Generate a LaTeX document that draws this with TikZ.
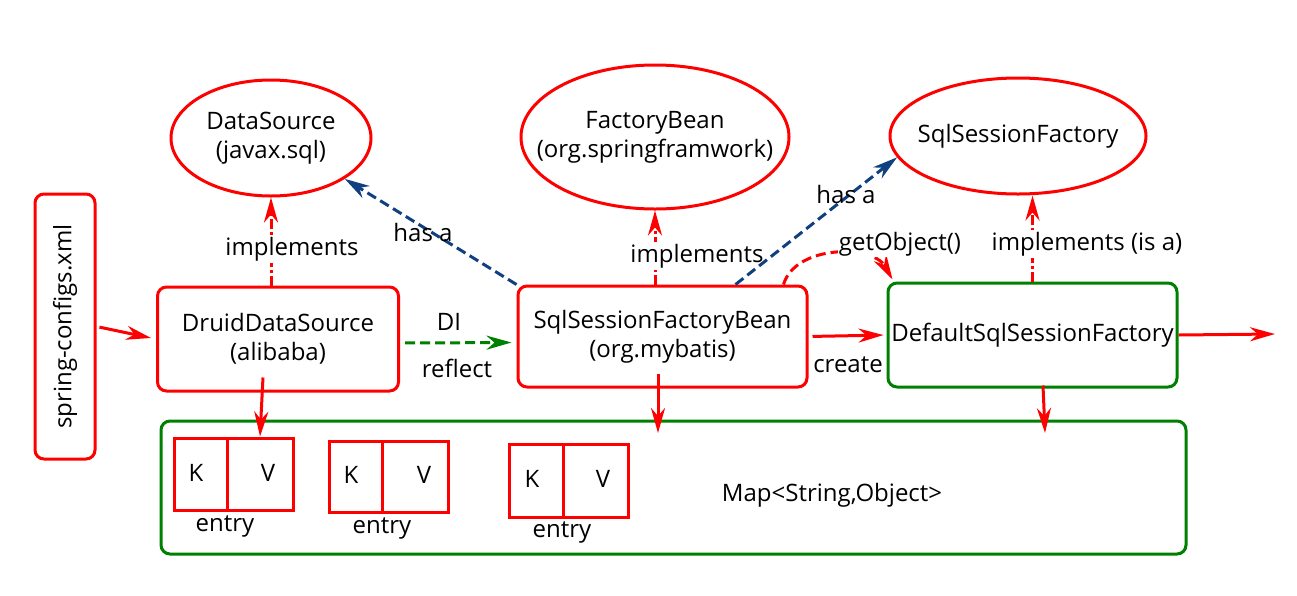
\documentclass[tikz,border=0pt]{standalone}
\usepackage{fontspec}
\setmainfont{Open Sans}
\usetikzlibrary{arrows.meta,calc,shapes.geometric}
\definecolor{dgreen}{RGB}{0,128,0}
\definecolor{dblue}{RGB}{16,64,128}
\begin{document}
\begin{tikzpicture}[x=1pt,y=-1pt,
  every node/.style={font=\fontsize{24}{29}\selectfont},
  redbox/.style={draw=red, line width=3pt, rounded corners=9pt, align=center, inner sep=0pt},
  greenbox/.style={draw=dgreen, line width=3pt, rounded corners=9pt, align=center, inner sep=0pt},
  ell/.style={ellipse, draw=red, line width=3pt, inner sep=0pt},
  cell/.style={draw=red, line width=3pt, inner sep=0pt},
  tip/.style={-{Stealth[length=25pt,width=14pt,inset=8pt]}},
  arr/.style={red, line width=3pt, tip},
  impl/.style={red, line width=3pt, tip, dash pattern=on 10pt off 3pt on 3pt off 3pt},
  hasa/.style={dblue, line width=3pt, tip, dash pattern=on 10pt off 5pt},
  di/.style={dgreen, line width=3pt, tip, dash pattern=on 10pt off 5pt},
  getobj/.style={red, line width=3pt, tip, dash pattern=on 10pt off 5pt},
  lbl/.style={fill=white, inner sep=2pt},
  plain/.style={inner sep=1pt, align=center}
]
\useasboundingbox (0,0) rectangle (1297,595);

% boxes
\node[redbox, minimum width=60, minimum height=265] (spring) at (65,326.5) {};
\node[rotate=90] (springtxt) at (spring.center) {spring-configs.xml};
\node[redbox, minimum width=241, minimum height=104] (druid) at (278,339) {DruidDataSource\\(alibaba)};
\node[redbox, minimum width=289, minimum height=101] (ssfb) at (662.5,336.5) {SqlSessionFactoryBean\\(org.mybatis)};
\node[greenbox, minimum width=289, minimum height=104] (dssf) at (1032.5,335) {DefaultSqlSessionFactory};

% ellipses
\node[ell, minimum width=200, minimum height=116] (ds) at (271,138) {};
\node[plain] (dst) at (ds.center) {DataSource\\(javax.sql)};
\node[ell, minimum width=268, minimum height=144] (fb) at (655,137) {};
\node[plain] (fbt) at (fb.center) {FactoryBean\\(org.springframwork)};
\node[ell, minimum width=256, minimum height=116] (ssf) at (1018,136) {};
\node[plain] (ssft) at (ssf.center) {SqlSessionFactory};

% map
\node[greenbox, minimum width=1025, minimum height=133] (map) at (673.5,487.5) {};
\node[plain] (maptxt) at (832,495) {Map<String,Object>};

% entries
\node[cell, minimum width=53, minimum height=72] (k1) at (200.5,474) {};
\node[cell, minimum width=66, minimum height=72] (v1) at (260,474) {};
\node[cell, minimum width=53, minimum height=71] (k2) at (355.5,476.5) {};
\node[cell, minimum width=66, minimum height=71] (v2) at (415,476.5) {};
\node[cell, minimum width=54, minimum height=73] (k3) at (536,480.5) {};
\node[cell, minimum width=65, minimum height=73] (v3) at (595.5,480.5) {};
\node[plain] (k1t) at (196,473) {K};
\node[plain] (v1t) at (268,473) {V};
\node[plain] (k2t) at (351,475) {K};
\node[plain] (v2t) at (424,475) {V};
\node[plain] (k3t) at (532,479) {K};
\node[plain] (v3t) at (603,479) {V};
\node[plain] (e1) at (225,526) {entry};
\node[plain] (e2) at (382,528) {entry};
\node[plain] (e3) at (562,532) {entry};

% connectors
\draw[arr, shorten <=3pt, shorten >=5pt] (spring.east) -- (druid.west);
\draw[impl] (ds.south |- druid.north) -- (ds.south);
\node[lbl] (impl1) at (292,249) {implements};
\draw[impl] (fb.south |- ssfb.north) -- (fb.south);
\node[lbl] (impl2) at (697,256) {implements};
\draw[impl] (dssf.north) -- (dssf.north |- ssf.south);
\node[lbl] (impl3) at (1087,244) {implements (is a)};

\draw[di, shorten <=5pt, shorten >=5pt] ($(druid.east)+(0,4)$) -- ($(ssfb.west)+(0,6)$);
\node[plain] (dil) at (449,322) {DI};
\node[plain] (refl) at (457,368) {reflect};

\draw[hasa] (ssfb.north west) -- (ds.-29);
\node[plain] (hasa1) at (423,232) {has a};
\draw[hasa] ($(ssfb.north)+(73,0)$) -- (ssf.190);
\node[plain] (hasa2) at (846,194) {has a};

\draw[getobj] ($(ssfb.north east)+(-25,0)$) .. controls +(12,-40) and +(-20,-35) .. ($(dssf.north west)+(6,-2)$);
\node[lbl, inner sep=1pt] (getl) at (900,244) {getObject()};

\draw[arr, shorten <=4pt, shorten >=3pt] (ssfb.east) -- (dssf.west);
\node[plain] (createl) at (848,365) {create};

\coordinate (out) at (1275,334);
\draw[arr] (dssf.east) -- (out);

\draw[arr] ($(druid.south)+(-15,-15)$) -- (v1.north);
\coordinate (m2) at (658,433);
\draw[arr] ($(ssfb.south)+(-4.5,-15)$) -- (m2);
\coordinate (m3) at (1045,433);
\draw[arr] ($(dssf.south)+(10.5,-3)$) -- (m3);
\end{tikzpicture}
\end{document}
